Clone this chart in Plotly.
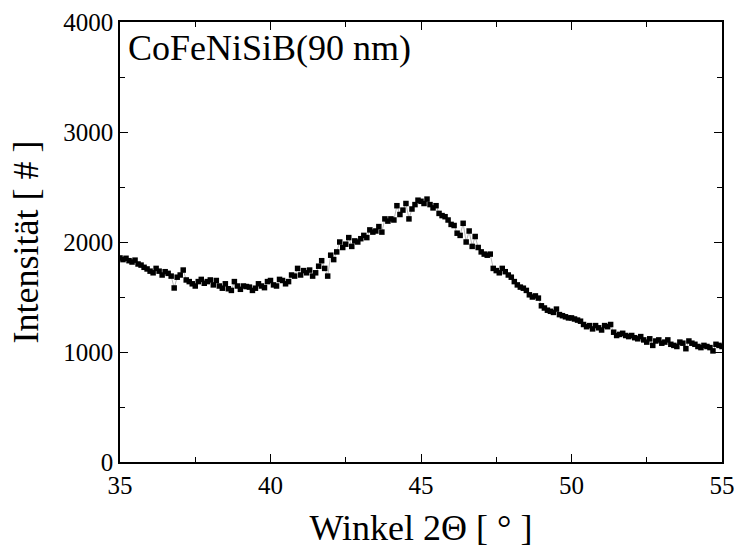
import plotly.graph_objects as go

angle_start = 35.0
angle_step = 0.1
intensity = [
    1855, 1840, 1852, 1830, 1818, 1835, 1800, 1790, 1770, 1755,
    1735, 1720, 1760, 1735, 1700, 1730, 1715, 1690, 1582, 1680,
    1700, 1745, 1655, 1640, 1620, 1600, 1640, 1660, 1625, 1640,
    1655, 1610, 1650, 1600, 1580, 1620, 1575, 1560, 1640, 1600,
    1570, 1600, 1595, 1590, 1560, 1580, 1620, 1600, 1585, 1640,
    1650, 1610, 1600, 1660, 1650, 1620, 1640, 1700, 1690, 1760,
    1700, 1740, 1720, 1745, 1690, 1720, 1780, 1830, 1760, 1690,
    1880, 1840, 1910, 2000, 1950, 1980, 2040, 1960, 2010, 2000,
    2030, 2060, 2040, 2110, 2090, 2100, 2140, 2090, 2210, 2190,
    2210, 2200, 2330, 2250, 2290, 2350, 2210, 2300, 2340, 2380,
    2370, 2350, 2390, 2340, 2310, 2330, 2260, 2240, 2230, 2200,
    2160, 2150, 2080, 2060, 2170, 2000, 2100, 1960, 2050, 1950,
    1910, 1890, 1880, 1890, 1760, 1740, 1720, 1760, 1730, 1700,
    1680, 1640, 1610, 1590, 1580, 1560, 1520, 1500, 1510, 1490,
    1420, 1400, 1380, 1370, 1360, 1390, 1340, 1330, 1320, 1310,
    1310, 1300, 1290, 1280, 1250, 1230, 1240, 1210, 1240, 1220,
    1200, 1240, 1230, 1250, 1180, 1150, 1160, 1170, 1150, 1140,
    1150, 1130, 1120, 1140, 1110, 1090, 1120, 1060, 1100, 1110,
    1080, 1090, 1110, 1070, 1060, 1050, 1090, 1080, 1030, 1100,
    1080, 1070, 1050, 1040, 1060, 1050, 1040, 1010, 1070, 1060,
    1050,
]
angles = [round(angle_start + i * angle_step, 2) for i in range(len(intensity))]

x_ticks = [35, 40, 45, 50, 55]
y_ticks = [0, 1000, 2000, 3000, 4000]
sample_label = "CoFeNiSiB(90 nm)"
x_title = "Winkel 2Θ [ ° ]"
y_title = "Intensität [ # ]"

font_family = "Liberation Serif"

fig = go.Figure()
fig.add_trace(go.Scatter(
    x=angles, y=intensity, mode="lines+markers",
    line=dict(color="#888888", width=0.6),
    marker=dict(symbol="square", size=5.5, color="black", line=dict(width=0)),
    showlegend=False,
))

axis_common = dict(
    showline=True, linecolor="black", linewidth=1.5, mirror="ticks",
    ticks="inside", ticklen=8, tickwidth=1.2, tickcolor="black",
    showgrid=False, zeroline=False, automargin=False,
    ticklabeloverflow="allow",
    tickfont=dict(family=font_family, size=25, color="black"),
)

fig.update_xaxes(
    range=[35, 55], tickvals=x_ticks, ticktext=[str(v) for v in x_ticks],
    minor=dict(ticks="inside", ticklen=5, tickwidth=1, tickcolor="black", dtick=2.5, tick0=35, showgrid=False),
    title=dict(text=x_title, font=dict(family=font_family, size=36, color="black"), standoff=17),
    **axis_common,
)
fig.update_yaxes(
    range=[0, 4000], tickvals=y_ticks, ticktext=[str(v) for v in y_ticks],
    minor=dict(ticks="inside", ticklen=5, tickwidth=1, tickcolor="black", dtick=500, tick0=0, showgrid=False),
    title=dict(text=y_title, font=dict(family=font_family, size=36, color="black"), standoff=14),
    **axis_common,
)

fig.add_annotation(
    x=0.01, y=0.99, xref="paper", yref="paper", xanchor="left", yanchor="top",
    text=sample_label, showarrow=False,
    font=dict(family=font_family, size=36, color="black"),
)

fig.update_layout(
    width=734, height=551,
    margin=dict(l=120, r=12, t=22, b=89),
    plot_bgcolor="white", paper_bgcolor="white",
)

fig.write_html("out.html")
